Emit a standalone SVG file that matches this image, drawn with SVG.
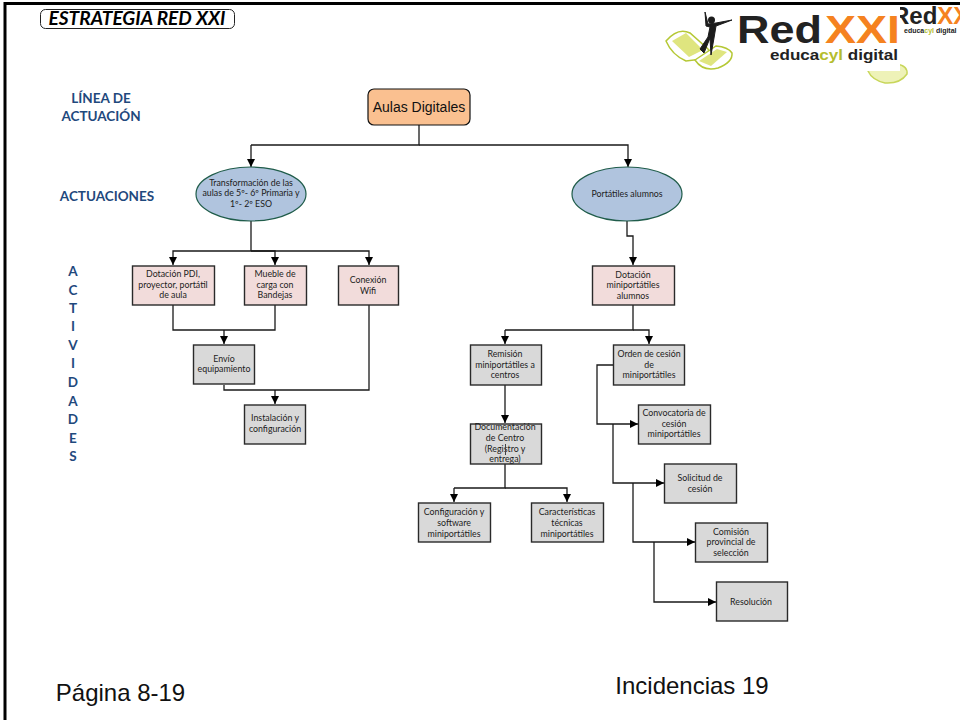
<svg xmlns="http://www.w3.org/2000/svg" width="960" height="720" viewBox="0 0 960 720">
<style>
text{font-family:"Lato","Liberation Sans",sans-serif;text-anchor:middle;fill:#1c1c1c}
.s{font-size:8.8px}
.h{font-size:13.5px;font-weight:700;fill:#1f497d}
.p{font-size:24px;font-family:"Liberation Sans",Arial,sans-serif;fill:#111}
.b{fill:#d9d9d9;stroke:#2a2a2a;stroke-width:1.4}
.r{fill:#f2dcdb;stroke:#2a2a2a;stroke-width:1.4}
.e{fill:#b0c4de;stroke:#1f5c4a;stroke-width:1.2}
.c{fill:none;stroke:#1a1a1a;stroke-width:1.3}
.a{marker-end:url(#ar)}
.lg{font-family:"Liberation Sans",Arial,sans-serif;font-weight:700;text-anchor:start}
.lime{fill:#dfe57f;stroke:#b5c835;stroke-width:1.5}
</style>
<defs><marker id="ar" markerUnits="userSpaceOnUse" markerWidth="9" markerHeight="9" refX="8" refY="4" orient="auto"><path d="M0 0L8 4L0 8z" fill="#000"/></marker></defs>
<rect width="960" height="720" fill="#fff"/>
<path d="M5 720V3.500H960" fill="none" stroke="#000" stroke-width="3"/>
<g id="title"><rect x="40.500" y="9.500" width="194" height="19" rx="5" fill="#fff" stroke="#222" stroke-width="1"/>
<text x="137" y="24.500" textLength="177" lengthAdjust="spacingAndGlyphs" style="font-size:18px;font-weight:700;font-style:italic;fill:#000">ESTRATEGIA RED XXI</text></g>
<g id="logo">
<text class="lg" x="892" y="24" style="font-size:24px;fill:#222">Red<tspan fill="#f58220">XXI</tspan></text>
<text class="lg" x="904" y="33" style="font-size:7px;fill:#222">educa<tspan fill="#b5bd2e">cyl</tspan> digital</text>
<path d="M868 71Q882 62 897 64Q908 66 907 74Q900 84 885 83Q872 80 868 71z" fill="#eef2b8" stroke="#c8d65a" stroke-width="1.500"/>
<rect x="722" y="6" width="178" height="65" fill="#fff"/>
<path d="M666 41Q678 27 690 33L708 49Q712 56 702 59L686 61Q672 55 666 41z" fill="#fff" stroke="#b5c835" stroke-width="1.500"/>
<path d="M672 41L686 33L703 50L689 57z" fill="#dfe57f"/>
<path d="M695 60L716 46Q728 47 732 53Q733 62 718 68Q703 72 695 60z" fill="#fff" stroke="#b5c835" stroke-width="1.500"/>
<path d="M699 61L717 49L727 52L711 66z" fill="#dfe57f"/>
<path d="M705 12L706 26L710 27L708 37L700 49L704 53L710 38L711 55L714 38L716 26L732 20L716 23L708 24z" fill="#1c1c1c" stroke="#1c1c1c" stroke-linejoin="round"/>
<circle cx="711.500" cy="20" r="3.500" fill="#1c1c1c"/>
<text class="lg" x="737" y="43" textLength="85" lengthAdjust="spacingAndGlyphs" style="font-size:38px;fill:#222">Red</text>
<text class="lg" x="825" y="43" textLength="75" lengthAdjust="spacingAndGlyphs" style="font-size:38px;fill:#f58220">XXI</text>
<text class="lg" x="770" y="60" textLength="128" lengthAdjust="spacingAndGlyphs" style="font-size:14.500px;fill:#222">educa<tspan fill="#b5bd2e">cyl</tspan> digital</text>
</g>
<g id="labels">
<text class="h" x="101" y="103">LÍNEA DE</text><text class="h" x="101" y="121">ACTUACIÓN</text>
<text class="h" x="107" y="201">ACTUACIONES</text>
<text class="h" x="73" y="276">A</text><text class="h" x="73" y="295">C</text><text class="h" x="73" y="313">T</text><text class="h" x="73" y="331">I</text><text class="h" x="73" y="350">V</text><text class="h" x="73" y="368">I</text><text class="h" x="73" y="387">D</text><text class="h" x="73" y="406">A</text><text class="h" x="73" y="424">D</text><text class="h" x="73" y="443">E</text><text class="h" x="73" y="461">S</text>
</g>
<g id="connectors">
<path class="c" d="M419 125V145H251"/><path class="c a" d="M251 145V167"/><path class="c a" d="M419 145H628V167"/>
<path class="c" d="M251 221V251"/><path class="c a" d="M251 251H173V265"/><path class="c a" d="M251 251H275V265"/><path class="c a" d="M251 251H369V265"/>
<path class="c" d="M173 305V330H275V305"/><path class="c a" d="M224 330V344"/>
<path class="c" d="M224 385V390H369V305"/><path class="c a" d="M275 390V404"/>
<path class="c a" d="M627 221V236H633V265"/>
<path class="c" d="M633 305V330H505"/><path class="c a" d="M505 330V344"/><path class="c a" d="M633 330H649V344"/>
<path class="c a" d="M505 385V423"/>
<path class="c" d="M505 464V488H454"/><path class="c a" d="M454 488V502"/><path class="c a" d="M505 488H567V502"/>
<path class="c a" d="M613 365H597V424H638"/>
<path class="c a" d="M613 424V483H664"/>
<path class="c a" d="M633 483V542H695"/>
<path class="c a" d="M654 542V602H716"/>
</g>
<g id="n1"><rect x="368" y="89" width="102" height="36" rx="6" fill="#fac090" stroke="#111" stroke-width="1.200"/><text x="419" y="112" style="font-family:'Liberation Sans',Arial,sans-serif;font-size:14px;fill:#111">Aulas Digitales</text></g>
<g id="n2"><ellipse class="e" cx="251" cy="194" rx="55" ry="27"/><text class="s" x="251" y="186">Transformación de las</text><text class="s" x="251" y="196">aulas de 5º- 6º Primaria y</text><text class="s" x="251" y="207">1º- 2º ESO</text></g>
<g id="n3"><ellipse class="e" cx="627" cy="194" rx="55" ry="27"/><text class="s" x="627" y="197">Portátiles alumnos</text></g>
<g id="n4"><rect class="r" x="132.500" y="266" width="82" height="39"/><text class="s" x="173" y="277">Dotación PDI,</text><text class="s" x="173" y="288">proyector, portátil</text><text class="s" x="173" y="298">de aula</text></g>
<g id="n5"><rect class="r" x="244.500" y="266" width="62" height="39"/><text class="s" x="275" y="277">Mueble de</text><text class="s" x="275" y="288">carga con</text><text class="s" x="275" y="298">Bandejas</text></g>
<g id="n6"><rect class="r" x="338.500" y="266" width="60" height="39"/><text class="s" x="368" y="283">Conexión</text><text class="s" x="368" y="294">Wifi</text></g>
<g id="n7"><rect class="b" x="193.500" y="345" width="61" height="39"/><text class="s" x="224" y="362">Envío</text><text class="s" x="224" y="372">equipamiento</text></g>
<g id="n8"><rect class="b" x="244.500" y="405" width="61" height="39"/><text class="s" x="275" y="421">Instalación y</text><text class="s" x="275" y="432">configuración</text></g>
<g id="n9"><rect class="r" x="592.500" y="266" width="82" height="39"/><text class="s" x="633" y="278">Dotación</text><text class="s" x="633" y="288">miniportátiles</text><text class="s" x="633" y="299">alumnos</text></g>
<g id="n10"><rect class="b" x="470.500" y="345" width="71" height="40"/><text class="s" x="505" y="357">Remisión</text><text class="s" x="505" y="368">miniportátiles a</text><text class="s" x="505" y="378">centros</text></g>
<g id="n11"><rect class="b" x="613.500" y="345" width="71" height="40"/><text class="s" x="649" y="357">Orden de cesión</text><text class="s" x="649" y="368">de</text><text class="s" x="649" y="378">miniportátiles</text></g>
<g id="n12"><rect class="b" x="470.500" y="424" width="71" height="40"/><text class="s" x="505" y="430">Documentación</text><text class="s" x="505" y="441">de Centro</text><text class="s" x="505" y="452">(Registro y</text><text class="s" x="505" y="462">entrega)</text><path d="M505.500 444V455" stroke="#444" stroke-width="1"/></g>
<g id="n13"><rect class="b" x="418.500" y="503" width="72" height="39"/><text class="s" x="454" y="515">Configuración y</text><text class="s" x="454" y="526">software</text><text class="s" x="454" y="537">miniportátiles</text></g>
<g id="n14"><rect class="b" x="531.500" y="503" width="72" height="39"/><text class="s" x="567" y="515">Características</text><text class="s" x="567" y="526">técnicas</text><text class="s" x="567" y="537">miniportátiles</text></g>
<g id="n15"><rect class="b" x="638.500" y="405" width="72" height="39"/><text class="s" x="674" y="416">Convocatoria de</text><text class="s" x="674" y="427">cesión</text><text class="s" x="674" y="437">miniportátiles</text></g>
<g id="n16"><rect class="b" x="664.500" y="464" width="72" height="39"/><text class="s" x="700" y="481">Solicitud de</text><text class="s" x="700" y="492">cesión</text></g>
<g id="n17"><rect class="b" x="695.500" y="523" width="72" height="39"/><text class="s" x="731" y="535">Comisión</text><text class="s" x="731" y="545">provincial de</text><text class="s" x="731" y="556">selección</text></g>
<g id="n18"><rect class="b" x="716.500" y="582" width="71" height="39"/><text class="s" x="751" y="605">Resolución</text></g>
<text class="p" x="120.500" y="701">Página 8-19</text>
<text class="p" x="692" y="694">Incidencias 19</text>
</svg>
